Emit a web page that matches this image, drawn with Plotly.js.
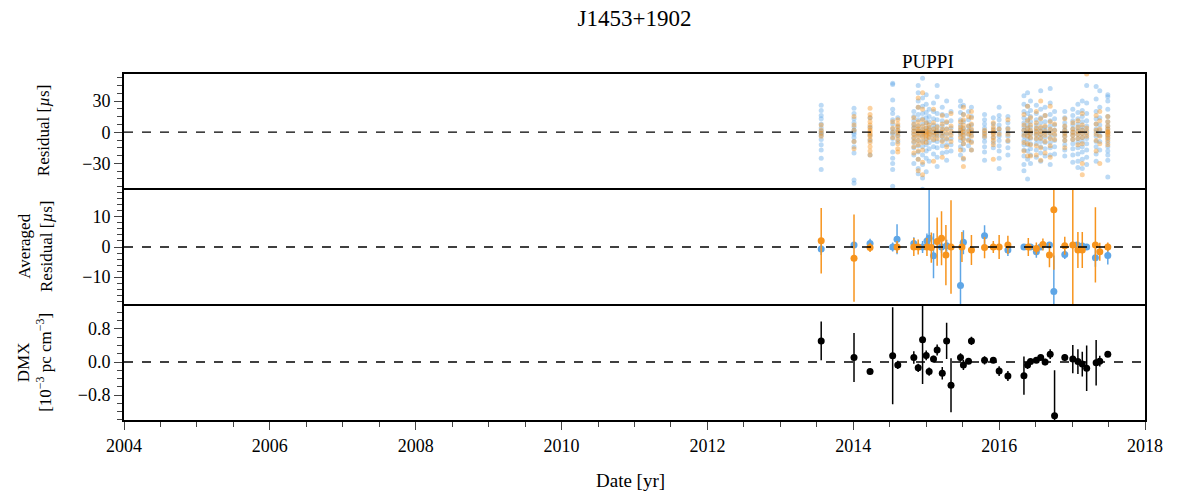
<!DOCTYPE html>
<html>
<head>
<meta charset="utf-8">
<script src="https://cdn.plot.ly/plotly-3.0.1.min.js"></script>
<style>html,body{margin:0;padding:0;background:#fff;}#chart{width:1177px;height:496px;}</style>
</head>
<body>
<div id="chart"></div>
<script>
// ---------- DATA ----------
const epochs = [2013.56, 2014.01, 2014.23, 2014.54, 2014.61, 2014.83, 2014.89, 2014.95, 2015.00, 2015.04,
  2015.10, 2015.15, 2015.22, 2015.28, 2015.34, 2015.47, 2015.51, 2015.58, 2015.62, 2015.80,
  2015.92, 2016.00, 2016.12, 2016.34, 2016.39, 2016.43, 2016.51, 2016.57, 2016.63, 2016.70,
  2016.76, 2016.90, 2017.01, 2017.08, 2017.14, 2017.20, 2017.33, 2017.38, 2017.49];

// Residuals (us), per epoch, blue (1400 MHz) and orange (430 MHz)
const blueRes = [
  [26, 21, 16, 13, 8, 4, 1, -1, -3, -7, -12, -17, -25, -36],
  [23, 18, 13, 9, 5, 2, 0, -2, -5, -9, -14, -20, -46, -49],
  [14, 5, -3, -8, -22],
  [47, 46, 31, 22, 18, 12, 8, 3, 0, -2, -6, -11, -19, -25, -30, -36, -52],
  [14, 6, 2, -1, -4, -9],
  [20, 15, 11, 7, 4, 1, -2, -6, -10, -15, -22, -30],
  [45, 38, 30, 24, 17, 12, 6, 2, -3, -8, -13, -19, -26, -35, -40],
  [52, 33, 25, 18, 13, 8, 3, 0, -4, -9, -14, -22, -31, -44, -55],
  [36, 27, 19, 14, 9, 4, 1, -2, -7, -12, -18, -25, -38],
  [22, 15, 10, 5, 2, -1, -5, -10, -16, -28],
  [28, 20, 13, 7, 3, 0, -3, -8, -14, -21],
  [45, 34, 18, 12, 6, 2, -1, -4, -9, -15, -24, -33],
  [24, 17, 11, 6, 2, -1, -4, -8, -13, -20],
  [30, 16, 9, 3, -2, -7, -12, -19, -27],
  [20, 11, 4, -1, -6, -12, -18],
  [30, 25, 19, 12, 7, 3, 0, -3, -8, -14, -22],
  [26, 17, 10, 4, 1, -2, -6, -11, -17, -26],
  [20, 12, 6, 2, -2, -7, -13],
  [24, 15, 7, 2, -3, -9, -17],
  [17, 12, 8, 4, 1, -2, -5, -9, -14, -19, -27],
  [14, 8, 3, -1, -5, -10, -15],
  [24, 16, 12, 7, 3, 0, -4, -8, -13, -18, -25, -35],
  [15, 9, 4, 0, -4, -9, -15, -22],
  [35, 27, 20, 14, 9, 5, 2, -1, -4, -8, -12, -17, -23, -31, -37],
  [38, 25, 18, 12, 7, 3, 0, -3, -7, -12, -18, -26, -45],
  [30, 21, 15, 10, 5, 1, -2, -6, -11, -16, -22, -30],
  [26, 18, 12, 7, 3, 0, -3, -7, -11, -17, -24],
  [40, 22, 14, 9, 4, 1, -2, -5, -9, -14, -20, -28],
  [24, 16, 10, 5, 2, -1, -5, -10, -16, -23],
  [42, 28, 17, 11, 6, 2, -1, -5, -10, -15, -22, -31],
  [20, 13, 7, 2, -3, -8, -14, -21],
  [20, 14, 9, 5, 2, -1, -4, -8, -12, -17, -23],
  [22, 16, 11, 7, 3, 0, -3, -7, -11, -16, -22, -29],
  [27, 19, 13, 8, 4, 1, -2, -6, -10, -15, -21, -28, -34],
  [30, 21, 15, 10, 5, 2, -1, -5, -9, -14, -19, -26, -35],
  [45, 28, 18, 11, 6, 2, -2, -6, -11, -17, -24, -31],
  [44, 32, 20, 13, 8, 3, 0, -4, -9, -14, -21, -28],
  [40, 24, 14, 7, 2, -3, -9, -17],
  [36, 34, 30, 22, 15, 10, 6, 3, 0, -3, -6, -10, -14, -18, -22, -27, -43]
];
const orangeRes = [
  [7, 2, -1, -4],
  [15, 7, 2, -9, -16],
  [23, 17, 14, 10, 7, 4, 2, 0, -2, -4, -7, -10, -14, -18, -22],
  [10, 4, 0, -5],
  [12, 8, 5, 2, 0, -3, -7, -11, -16, -19],
  [14, 8, 4, 1, -2, -5, -9, -14, -20],
  [33, 24, 10, 6, 3, 1, -1, -4, -8, -12, -18, -26, -37],
  [38, 22, 12, 6, 2, 0, -2, -5, -10, -17, -29, -41],
  [9, 4, 1, -1, -3, -6, -10],
  [7, 3, 0, -2, -5],
  [22, 9, 3, 0, -3, -7, -28],
  [5, 1, -2, -6],
  [16, 8, 3, 0, -4, -9, -24],
  [10, 3, -1, -6, -14],
  [18, 6, 1, -3, -9],
  [10, 5, 2, -1, -5, -17],
  [24, 17, 12, 7, 3, 0, -3, -7, -11, -25, -33],
  [15, 6, 1, -2, -8],
  [20, 14, 8, 3, 0, -4, -10, -17],
  [2, -1, -4],
  [9, 5, 2, 0, -2, -5, -8, -12, -26],
  [3, -2],
  [12, 3, -2, -8],
  [17, 7, 2, -3, -10, -18],
  [25, 11, 4, 0, -4, -11, -23],
  [14, 7, 2, -1, -5, -12, -23],
  [20, 9, 4, 1, -2, -6, -13, -22],
  [30, 13, 5, 1, -2, -6, -15, -27],
  [16, 6, 1, -3, -9, -20],
  [25, 10, 3, -1, -6, -13, -24],
  [8, 2, -2, -7],
  [13, 6, 2, -1, -4, -8, -15],
  [9, 3, 0, -3, -7],
  [11, 5, 1, -2, -6, -12],
  [18, 7, 2, -1, -5, -11, -30, -41],
  [56, 4, 0, -4],
  [16, 8, 2, -2, -8, -18],
  [20, 11, 3, -4, -11, -30],
  [15, 10, 6, 3, 1, 0, -1, -3, -5, -8, -12]
];

// Averaged residuals (us)
const avgBlueX   = [2013.56, 2014.01, 2014.23, 2014.54, 2014.60, 2014.83, 2014.95, 2015.01, 2015.04, 2015.10,
  2015.21, 2015.28, 2015.47, 2015.51, 2015.80, 2016.12, 2016.34, 2016.43, 2016.51, 2016.57,
  2016.69, 2016.75, 2016.90, 2017.07, 2017.14, 2017.20, 2017.32, 2017.49];
const avgBlueY   = [-0.7, 0.7, 1.2, 0.0, 2.6, 1.2, 0.0, 2.0, 2.9, -2.9,
  0.0, 0.4, -12.8, 1.6, 3.7, -1.0, 0.0, 0.0, -1.6, 0.0,
  0.7, -14.8, -2.5, 0.7, 0.3, 0.0, -3.6, -2.8];
const avgBlueErrUp = [2, 1, 1.5, 1.5, 5, 2, 2, 2.5, 17, 7.5,
  2, 2, 14.6, 4, 3.5, 2, 1, 1, 2, 1,
  1, 12, 1.5, 1, 1, 1, 3, 3];
const avgBlueErrDn = [2, 1, 1.5, 1.5, 5, 2, 2, 2.5, 3, 7.5,
  2, 2, 14.6, 4, 3.5, 2, 1, 1, 2, 1,
  1, 12, 1.5, 1, 1, 1, 3, 3];

const avgOrangeX = [2013.56, 2014.01, 2014.23, 2014.60, 2014.83, 2014.89, 2015.01, 2015.07, 2015.15, 2015.21,
  2015.27, 2015.34, 2015.49, 2015.62, 2015.80, 2015.92, 2016.00, 2016.12, 2016.40, 2016.51,
  2016.60, 2016.69, 2016.75, 2016.90, 2017.01, 2017.08, 2017.14, 2017.32, 2017.38, 2017.49];
const avgOrangeY = [2.1, -3.7, -0.2, 0.0, 0.0, 0.0, 0.0, -0.2, 1.8, 2.9,
  -2.7, 0.0, 0.0, -1.0, -0.2, 0.0, 0.0, 0.7, 0.0, -0.5,
  0.8, -2.7, 12.4, 0.4, 0.7, -1.0, -1.0, 0.7, -1.6, 0.0];
const avgOrangeErr = [10.9, 14.5, 1.5, 2, 3, 2.5, 3, 5, 8, 9,
  10, 15.5, 5, 5, 3.5, 2, 4, 3, 3, 2,
  2, 4, 20, 3, 20, 6, 6, 12.5, 3, 1.5];

// DMX (1e-3 pc cm^-3)
const dmxX = [2013.56, 2014.01, 2014.23, 2014.54, 2014.61, 2014.83, 2014.89, 2014.95, 2015.00, 2015.04,
  2015.10, 2015.15, 2015.22, 2015.28, 2015.34, 2015.47, 2015.51, 2015.58, 2015.62, 2015.80,
  2015.92, 2016.00, 2016.12, 2016.34, 2016.39, 2016.43, 2016.51, 2016.57, 2016.63, 2016.70,
  2016.76, 2016.90, 2017.01, 2017.08, 2017.14, 2017.20, 2017.33, 2017.38, 2017.49];
const dmxY = [0.51, 0.11, -0.23, 0.15, -0.07, 0.11, -0.14, 0.54, 0.16, -0.23,
  0.07, 0.29, -0.27, 0.51, -0.56, 0.11, -0.07, 0.02, 0.51, 0.04,
  0.04, -0.22, -0.34, -0.33, -0.07, 0.01, 0.04, 0.11, 0.00, 0.19,
  -1.30, 0.11, 0.07, 0.01, -0.05, -0.15, -0.02, 0.02, 0.19];
const dmxErr = [0.47, 0.59, 0.06, 1.17, 0.10, 0.15, 0.10, 1.07, 0.12, 0.10,
  0.08, 0.13, 0.15, 0.44, 0.65, 0.10, 0.12, 0.06, 0.10, 0.10,
  0.06, 0.12, 0.12, 0.46, 0.10, 0.06, 0.05, 0.05, 0.08, 0.12,
  1.10, 0.08, 0.34, 0.30, 0.30, 0.55, 0.55, 0.13, 0.06];

// ---------- BUILD ----------
const BLUE = '#5fa6e6', ORANGE = '#f7941d';
function flatten(res) {
  const xs = [], ys = [];
  res.forEach((arr, i) => arr.forEach(v => { xs.push(epochs[i]); ys.push(v); }));
  return {xs, ys};
}
const b = flatten(blueRes), o = flatten(orangeRes);

const traces = [
  {x: b.xs, y: b.ys, xaxis: 'x', yaxis: 'y', type: 'scatter', mode: 'markers',
   marker: {color: BLUE, size: 5, opacity: 0.42}, hoverinfo: 'skip'},
  {x: o.xs, y: o.ys, xaxis: 'x', yaxis: 'y', type: 'scatter', mode: 'markers',
   marker: {color: ORANGE, size: 5, opacity: 0.42}, hoverinfo: 'skip'},
  {x: avgBlueX, y: avgBlueY, xaxis: 'x2', yaxis: 'y2', type: 'scatter', mode: 'markers',
   marker: {color: BLUE, size: 7},
   error_y: {type: 'data', symmetric: false, array: avgBlueErrUp, arrayminus: avgBlueErrDn, color: BLUE, thickness: 1.5, width: 0}},
  {x: avgOrangeX, y: avgOrangeY, xaxis: 'x2', yaxis: 'y2', type: 'scatter', mode: 'markers',
   marker: {color: ORANGE, size: 7},
   error_y: {type: 'data', array: avgOrangeErr, color: ORANGE, thickness: 1.5, width: 0}},
  {x: dmxX, y: dmxY, xaxis: 'x3', yaxis: 'y3', type: 'scatter', mode: 'markers',
   marker: {color: 'black', size: 7},
   error_y: {type: 'data', array: dmxErr, color: 'black', thickness: 1.5, width: 0}}
];

const FONT = 'Liberation Serif, Times New Roman, serif';
const H = 346, gap = 1.5, ph = (H - 2 * gap) / 3;
const d3 = [0, ph / H], d2 = [(ph + gap) / H, (2 * ph + gap) / H], d1 = [(2 * ph + 2 * gap) / H, 1];

function xax(anchor, show) {
  const a = {
    anchor: anchor, domain: [0, 1], range: [2004, 2018],
    showline: true, mirror: true, linecolor: 'black', linewidth: 2,
    showgrid: false, zeroline: false,
    ticks: show ? 'outside' : '', ticklen: 8, tickwidth: 1, tickcolor: '#444',
    showticklabels: show, dtick: 2, tick0: 2004,
    tickfont: {family: FONT, size: 18, color: 'black'}
  };
  if (show) a.minor = {dtick: 0.5, ticks: 'outside', ticklen: 5, tickcolor: '#444', showgrid: false};
  return a;
}
function yax(anchor, domain, range, dtick, mdtick, fmt) {
  return {
    anchor: anchor, domain: domain, range: range,
    showline: true, mirror: true, linecolor: 'black', linewidth: 2,
    showgrid: false, zeroline: false,
    ticks: 'outside', ticklen: 8, tickwidth: 1, tickcolor: '#444',
    dtick: dtick, tick0: 0, tickformat: fmt,
    minor: {dtick: mdtick, ticks: 'outside', ticklen: 5, tickcolor: '#444', showgrid: false},
    tickfont: {family: FONT, size: 18, color: 'black'}
  };
}

const pxX = p => (p - 124) / 1021;
const layout = {
  width: 1177, height: 496,
  margin: {l: 124, r: 32, t: 74, b: 76},
  paper_bgcolor: 'white', plot_bgcolor: 'white',
  showlegend: false,
  font: {family: FONT, color: 'black'},
  title: {text: 'J1453+1902', x: 0.5, xref: 'paper', xanchor: 'center',
          y: 1 - 18 / 496, yref: 'container', yanchor: 'middle',
          font: {family: FONT, size: 23, color: 'black'}},
  xaxis: xax('y', false),
  xaxis2: xax('y2', false),
  xaxis3: xax('y3', true),
  yaxis: yax('x', d1, [-54, 56], 30, 7.5, 'd'),
  yaxis2: yax('x2', d2, [-19, 19], 10, 2, 'd'),
  yaxis3: yax('x3', d3, [-1.4, 1.36], 0.8, 0.2, '.1f'),
  shapes: [
    {type: 'line', xref: 'x domain', x0: 0, x1: 1, yref: 'y', y0: 0, y1: 0, line: {color: 'black', width: 1.3, dash: 'dash'}, layer: 'above'},
    {type: 'line', xref: 'x2 domain', x0: 0, x1: 1, yref: 'y2', y0: 0, y1: 0, line: {color: 'black', width: 1.3, dash: 'dash'}, layer: 'above'},
    {type: 'line', xref: 'x3 domain', x0: 0, x1: 1, yref: 'y3', y0: 0, y1: 0, line: {color: 'black', width: 1.3, dash: 'dash'}, layer: 'above'}
  ],
  annotations: [
    {text: 'PUPPI', xref: 'x', x: 2015.03, yref: 'paper', y: 1 + 12 / H, xanchor: 'center', yanchor: 'middle',
     showarrow: false, font: {family: FONT, size: 19, color: 'black'}},
    {text: 'Residual [<i>µ</i>s]', xref: 'paper', x: pxX(43), yref: 'paper', y: (d1[0] + d1[1]) / 2,
     textangle: -90, xanchor: 'center', yanchor: 'middle', showarrow: false, font: {family: FONT, size: 17, color: 'black'}},
    {text: 'Averaged<br>Residual [<i>µ</i>s]', xref: 'paper', x: pxX(35), yref: 'paper', y: (d2[0] + d2[1]) / 2,
     textangle: -90, xanchor: 'center', yanchor: 'middle', showarrow: false, font: {family: FONT, size: 17, color: 'black'}},
    {text: 'DMX<br>[10<sup>−3</sup> pc cm<sup>−3</sup>]', xref: 'paper', x: pxX(35), yref: 'paper', y: (d3[0] + d3[1]) / 2,
     textangle: -90, xanchor: 'center', yanchor: 'middle', showarrow: false, font: {family: FONT, size: 17, color: 'black'}},
    {text: 'Date [yr]', xref: 'paper', x: pxX(630), yref: 'paper', y: -(480 - 420) / H,
     xanchor: 'center', yanchor: 'middle', showarrow: false, font: {family: FONT, size: 19, color: 'black'}}
  ]
};

Plotly.newPlot('chart', traces, layout, {staticPlot: true, displayModeBar: false});
</script>
</body>
</html>
